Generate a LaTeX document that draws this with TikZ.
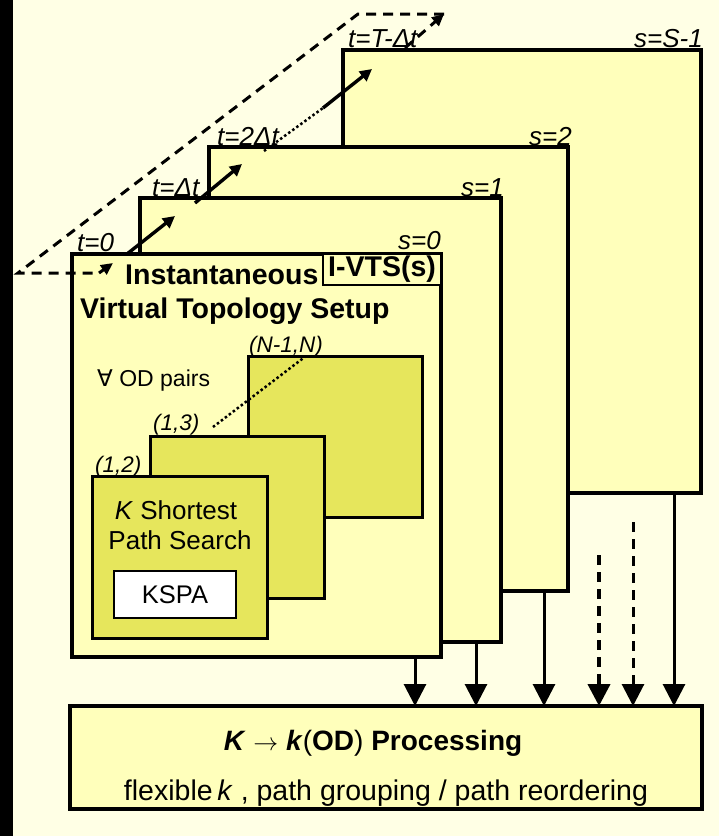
\documentclass[tikz,border=0pt]{standalone}
\usepackage{fontspec}
\setmainfont{Liberation Sans}
\newfontfamily\djv{DejaVu Sans}
\usetikzlibrary{arrows.meta}
\definecolor{bgc}{RGB}{255,255,229}
\definecolor{boxc}{RGB}{255,255,187}
\definecolor{innc}{RGB}{230,230,92}
\begin{document}
\begin{tikzpicture}[x=1pt,y=-1pt,
  frame/.style={draw=black, line width=3.4pt, fill=boxc, anchor=north west, inner sep=0pt, outer sep=0pt},
  inner/.style={draw=black, line width=3pt, fill=innc, anchor=north west, inner sep=0pt, outer sep=0pt},
  tlab/.style={font=\fontsize{26}{28}\selectfont\itshape, anchor=base west, inner sep=0pt},
  slab/.style={font=\fontsize{26}{28}\selectfont\itshape, anchor=base east, inner sep=0pt},
  odlab/.style={font=\fontsize{22.5}{24}\selectfont\itshape, anchor=base west, inner sep=0pt},
  head/.style={font=\fontsize{28.5}{30}\selectfont\bfseries, anchor=base west, inner sep=0pt},
  varrow/.style={line width=3pt, -{Triangle[width=22pt,length=22pt]}},
  darrow/.style={line width=3.4pt, -{Triangle[width=12pt,length=12pt]}},
  dashline/.style={line width=3pt, dash pattern=on 10pt off 7pt},
  vdash/.style={varrow, line width=4pt, dash pattern=on 10pt off 7pt}
]
\useasboundingbox (0,0) rectangle (719,836);
\fill[bgc] (0,0) rectangle (719,836);
\fill[black] (0,0) rectangle (13,836);

% stacked setup boxes
\node[frame, minimum width=358pt, minimum height=443pt] (sS) at (343,50) {};
\node[frame, minimum width=359pt, minimum height=444pt] (s2) at (209,147) {};
\node[frame, minimum width=361pt, minimum height=444pt] (s1) at (140,198) {};
\node[frame, minimum width=369pt, minimum height=403pt] (s0) at (72,254) {};

% labels
\node[tlab] (t0) at (77,251) {t=0};
\node[tlab] (t1) at (152,196) {t=Δt};
\node[tlab] (t2) at (217,145) {t=2Δt};
\node[tlab] (tT) at (348,47) {t=T-Δt};
\node[slab] (lS) at (703,47) {s=S-1};
\node[slab] (l2) at (572,145) {s=2};
\node[slab] (l1) at (504,196) {s=1};
\node[slab] (l0) at (441,249) {s=0};

% diagonal time arrows
\coordinate (d0a) at (127,254); \coordinate (d0b) at (175,216);
\coordinate (d1a) at (195,203); \coordinate (d1b) at (242,164);
\coordinate (d2a) at (323,108); \coordinate (d2b) at (372,69);
\coordinate (dota) at (264,151);
\draw[darrow] (d0a) -- (d0b);
\draw[darrow] (d1a) -- (d1b);
\draw[darrow] (d2a) -- (d2b);
\draw[line width=2.5pt, dash pattern=on 2.5pt off 2.5pt] (dota) -- (d2a);

% dashed loop back
\coordinate (la) at (405,48); \coordinate (lb) at (444,14);
\coordinate (lc) at (358,14); \coordinate (ld) at (18,273);
\coordinate (le) at (99,273); \coordinate (lf) at (113,263);
\draw[dashline, -{Triangle[width=11pt,length=12pt]}] (la) -- (lb);
\draw[dashline] (lb) -- (lc) -- (ld) -- (le);
\draw[line width=3pt, -{Triangle[width=11pt,length=12pt]}] (le) -- (lf);

% I-VTS box and heading
\node[draw=black, line width=2.8pt, fill=boxc, anchor=north west, inner sep=0pt, outer sep=0pt,
      minimum width=118pt, minimum height=31pt, font=\fontsize{28.5}{30}\selectfont\bfseries] (ivts) at (323,254) {I-VTS(s)};
\node[head] (h1) at (125,284) {Instantaneous};
\node[head] (h2) at (80,318) {Virtual Topology Setup};
\node[anchor=base west, inner sep=0pt, font=\fontsize{23}{25}\selectfont] (od) at (97,386) {{\djv ∀} OD pairs};

% OD pair boxes
\node[inner, minimum width=174pt, minimum height=161pt] (iN) at (248,356) {};
\node[inner, minimum width=174pt, minimum height=162pt] (i13) at (150,436) {};
\node[inner, minimum width=175pt, minimum height=162pt] (i12) at (92,476) {};
\node[odlab] (lN) at (249,352) {(N-1,N)};
\node[odlab] (l13) at (153,430) {(1,3)};
\node[odlab] (l12) at (95,472) {(1,2)};
\coordinate (dd1) at (213,427); \coordinate (dd2) at (306,356);
\draw[line width=2.5pt, dash pattern=on 2.5pt off 2.5pt] (dd1) -- (dd2);

\node[anchor=base, inner sep=0pt, font=\fontsize{26}{28}\selectfont] (ks1) at (176,519) {\textit{K} Shortest};
\node[anchor=base, inner sep=0pt, font=\fontsize{26}{28}\selectfont] (ks2) at (180,549) {Path Search};
\node[draw=black, line width=2.8pt, fill=white, anchor=north west, inner sep=0pt, outer sep=0pt,
      minimum width=122pt, minimum height=47pt, font=\fontsize{25.5}{27}\selectfont] (kspa) at (114,571) {KSPA};

% processing box
\node[frame, minimum width=632pt, minimum height=103pt] (proc) at (70,706) {};
\node[anchor=base, inner sep=0pt, font=\fontsize{28}{30}\selectfont] (pt1) at (373,750)
  {\textbf{\textit{K}} $\rightarrow$ \textbf{\textit{k}}(\textbf{OD}) \textbf{Processing}};
\node[anchor=base, inner sep=0pt, font=\fontsize{28.5}{30}\selectfont] (pt2) at (386,800)
  {flexible\,\textit{k} , path grouping / path reordering};

% vertical arrows
\coordinate (x0) at (415,0); \coordinate (x1) at (476,0); \coordinate (x2) at (544,0);
\coordinate (x5) at (674,0);
\coordinate (v3) at (599,555); \coordinate (v4) at (633,522);
\draw[varrow] (x0 |- s0.south) -- (x0 |- proc.north);
\draw[varrow] (x1 |- s1.south) -- (x1 |- proc.north);
\draw[varrow] (x2 |- s2.south) -- (x2 |- proc.north);
\draw[varrow] (x5 |- sS.south) -- (x5 |- proc.north);
\draw[vdash] (v3) -- (v3 |- proc.north);
\draw[vdash, line width=3pt] (v4) -- (v4 |- proc.north);
\end{tikzpicture}
\end{document}
